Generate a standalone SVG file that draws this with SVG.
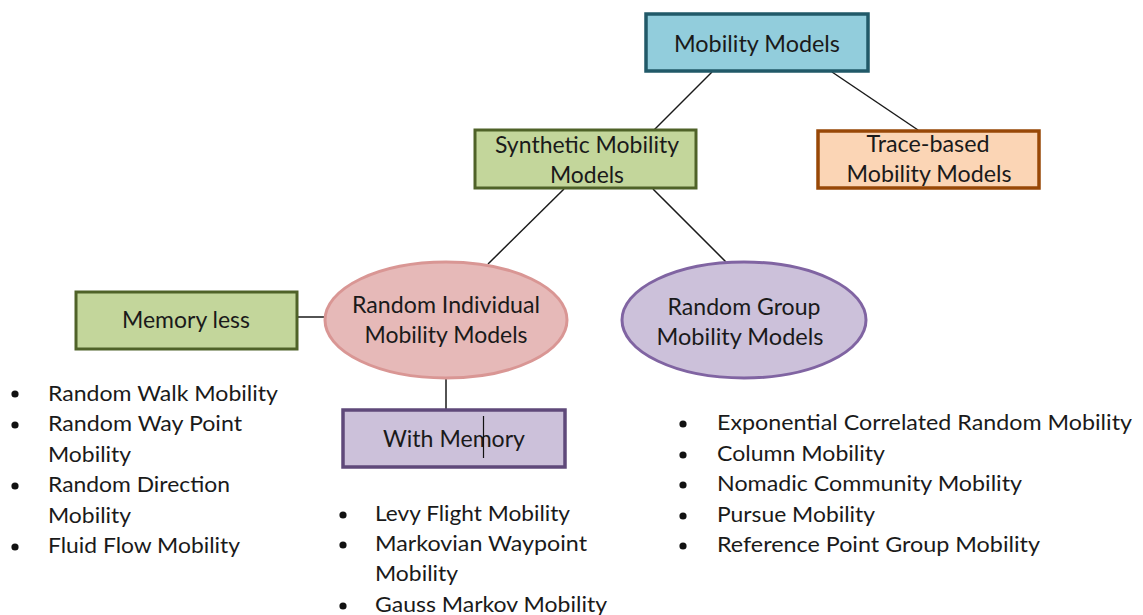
<svg xmlns="http://www.w3.org/2000/svg" width="1143" height="615" viewBox="0 0 1143 615">
<style>
text{font-family:Lato,"Liberation Sans",sans-serif;fill:#1a1a1a}
.n{font-size:23px;text-anchor:middle}
.l{font-size:21px}
.c{stroke:#1a1a1a;stroke-width:1.5;fill:none}
.bul{fill:#111}
</style>
<rect width="1143" height="615" fill="#fff"/>
<g id="connectors">
<line class="c" x1="712" y1="72" x2="653" y2="131"/>
<line class="c" x1="832" y1="72" x2="918" y2="130"/>
<line class="c" x1="564" y1="189" x2="488" y2="264"/>
<line class="c" x1="653" y1="189" x2="726" y2="262"/>
<line class="c" x1="298" y1="317" x2="326" y2="317"/>
<line class="c" x1="446" y1="378" x2="446" y2="409"/>
</g>
<g id="mobility-models">
<rect x="646" y="14" width="222" height="57" fill="#92CDDC" stroke="#215968" stroke-width="3.5"/>
<text class="n" x="757" y="52" textLength="166" lengthAdjust="spacingAndGlyphs">Mobility Models</text>
</g>
<g id="synthetic">
<rect x="475" y="130" width="221" height="58" fill="#C3D69B" stroke="#4F6228" stroke-width="3"/>
<text class="n" x="587" y="153" textLength="184" lengthAdjust="spacingAndGlyphs">Synthetic Mobility</text>
<text class="n" x="587" y="183" textLength="74" lengthAdjust="spacingAndGlyphs">Models</text>
</g>
<g id="trace-based">
<rect x="818" y="131" width="221" height="57" fill="#FBD5B5" stroke="#984807" stroke-width="3.5"/>
<text class="n" x="928" y="152" textLength="123" lengthAdjust="spacingAndGlyphs">Trace-based</text>
<text class="n" x="929" y="182" textLength="165" lengthAdjust="spacingAndGlyphs">Mobility Models</text>
</g>
<g id="memory-less">
<rect x="76" y="292" width="221" height="57" fill="#C3D69B" stroke="#4F6228" stroke-width="3"/>
<text class="n" x="186" y="328" textLength="128" lengthAdjust="spacingAndGlyphs">Memory less</text>
</g>
<g id="random-individual">
<ellipse cx="446" cy="320" rx="121" ry="58" fill="#E6B9B8" stroke="#D99694" stroke-width="3"/>
<text class="n" x="446" y="313" textLength="188" lengthAdjust="spacingAndGlyphs">Random Individual</text>
<text class="n" x="446" y="343" textLength="163" lengthAdjust="spacingAndGlyphs">Mobility Models</text>
</g>
<g id="random-group">
<ellipse cx="744" cy="320" rx="122" ry="58" fill="#CCC1DA" stroke="#8064A2" stroke-width="3"/>
<text class="n" x="744" y="315" textLength="153" lengthAdjust="spacingAndGlyphs">Random Group</text>
<text class="n" x="740" y="345" textLength="167" lengthAdjust="spacingAndGlyphs">Mobility Models</text>
</g>
<g id="with-memory">
<rect x="343" y="410" width="222" height="57" fill="#CCC1DA" stroke="#5F497A" stroke-width="3.5"/>
<text class="n" x="454" y="447" textLength="142" lengthAdjust="spacingAndGlyphs">With Memory</text>
<line x1="483.5" y1="416" x2="483.5" y2="458" stroke="#111" stroke-width="1.2"/>
</g>
<g id="list-memoryless">
<circle class="bul" cx="15" cy="394" r="3.6"/>
<circle class="bul" cx="15" cy="425" r="3.6"/>
<circle class="bul" cx="15" cy="486" r="3.6"/>
<circle class="bul" cx="15" cy="547" r="3.6"/>
<text class="l" x="48" y="401" textLength="230" lengthAdjust="spacingAndGlyphs">Random Walk Mobility</text>
<text class="l" x="48" y="431" textLength="194" lengthAdjust="spacingAndGlyphs">Random Way Point</text>
<text class="l" x="48" y="462" textLength="83" lengthAdjust="spacingAndGlyphs">Mobility</text>
<text class="l" x="48" y="492" textLength="182" lengthAdjust="spacingAndGlyphs">Random Direction</text>
<text class="l" x="48" y="523" textLength="83" lengthAdjust="spacingAndGlyphs">Mobility</text>
<text class="l" x="48" y="553" textLength="192" lengthAdjust="spacingAndGlyphs">Fluid Flow Mobility</text>
</g>
<g id="list-memory">
<circle class="bul" cx="343" cy="515" r="3.6"/>
<circle class="bul" cx="343" cy="545" r="3.6"/>
<circle class="bul" cx="343" cy="606" r="3.6"/>
<text class="l" x="375" y="521" textLength="195" lengthAdjust="spacingAndGlyphs">Levy Flight Mobility</text>
<text class="l" x="375" y="551" textLength="212" lengthAdjust="spacingAndGlyphs">Markovian Waypoint</text>
<text class="l" x="375" y="581" textLength="83" lengthAdjust="spacingAndGlyphs">Mobility</text>
<text class="l" x="375" y="612" textLength="232" lengthAdjust="spacingAndGlyphs">Gauss Markov Mobility</text>
</g>
<g id="list-group">
<circle class="bul" cx="683" cy="424" r="3.6"/>
<circle class="bul" cx="683" cy="455" r="3.6"/>
<circle class="bul" cx="683" cy="485" r="3.6"/>
<circle class="bul" cx="683" cy="516" r="3.6"/>
<circle class="bul" cx="683" cy="546" r="3.6"/>
<text class="l" x="717" y="430" textLength="415" lengthAdjust="spacingAndGlyphs">Exponential Correlated Random Mobility</text>
<text class="l" x="717" y="461" textLength="168" lengthAdjust="spacingAndGlyphs">Column Mobility</text>
<text class="l" x="717" y="491" textLength="305" lengthAdjust="spacingAndGlyphs">Nomadic Community Mobility</text>
<text class="l" x="717" y="522" textLength="158" lengthAdjust="spacingAndGlyphs">Pursue Mobility</text>
<text class="l" x="717" y="552" textLength="323" lengthAdjust="spacingAndGlyphs">Reference Point Group Mobility</text>
</g>
</svg>
